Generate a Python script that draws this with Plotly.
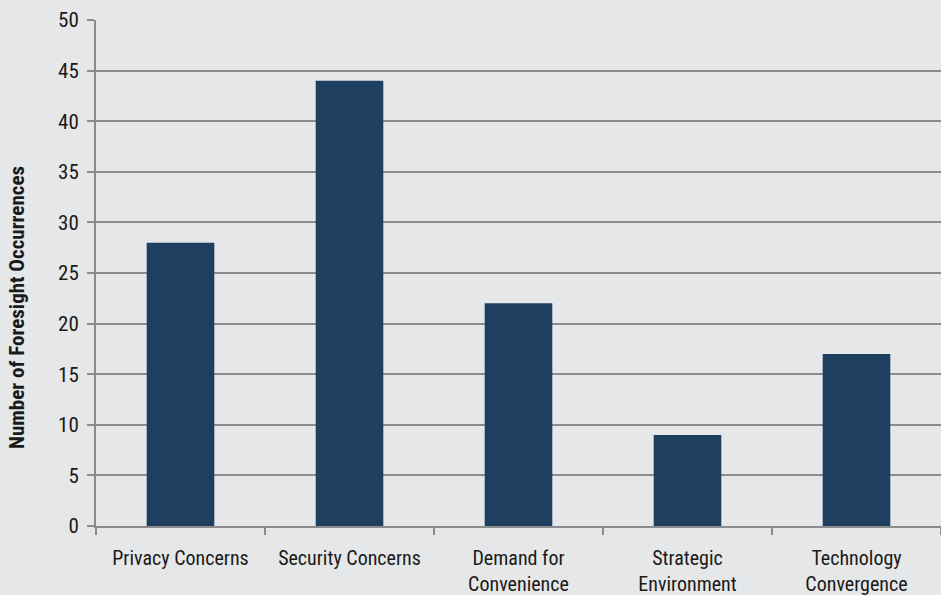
import plotly.graph_objects as go

categories = ["Privacy Concerns", "Security Concerns", "Demand for<br>Convenience",
              "Strategic<br>Environment", "Technology<br>Convergence"]
values = [28, 44, 22, 9, 17]
y_ticks = list(range(0, 51, 5))
y_title = "Number of Foresight Occurrences"

BG = "#e6e7e8"
GRID = "#8c8c8c"
BAR = "#1f3f60"
FONT = "Liberation Sans Narrow, Roboto Condensed, Arial Narrow, sans-serif"

fig = go.Figure(go.Bar(x=categories, y=values, marker_color=BAR,
                       marker_line_width=0, width=0.4))

fig.update_layout(
    width=941, height=595,
    paper_bgcolor=BG, plot_bgcolor=BG,
    margin=dict(l=96, r=0, t=20, b=69),
    font=dict(family=FONT, size=20, color="#1a1a1a"),
    showlegend=False,
    bargap=0.6,
)
fig.update_xaxes(
    range=[-0.5, 4.5], automargin=False,
    showline=True, linecolor=GRID, linewidth=2,
    ticks="outside", tickson="boundaries", ticklen=7, tickcolor=GRID, tickwidth=2,
    showgrid=False,
    tickfont=dict(family=FONT, size=20),
    ticklabelstandoff=13,
)
fig.update_yaxes(
    range=[0, 50], tickvals=y_ticks, automargin=False,
    showline=True, linecolor=GRID, linewidth=2,
    ticks="outside", ticklen=7, tickcolor=GRID, tickwidth=2,
    showgrid=True, gridcolor=GRID, gridwidth=2,
    zeroline=False,
    tickfont=dict(family=FONT, size=21),
    ticklabelstandoff=4,
)
fig.add_annotation(
    text="<b>" + y_title + "</b>", textangle=-90,
    xref="paper", yref="paper", x=-0.0935, y=0.433,
    xanchor="center", yanchor="middle", showarrow=False,
    font=dict(family=FONT, size=21, color="#1a1a1a"),
)

fig.write_html("out.html")
